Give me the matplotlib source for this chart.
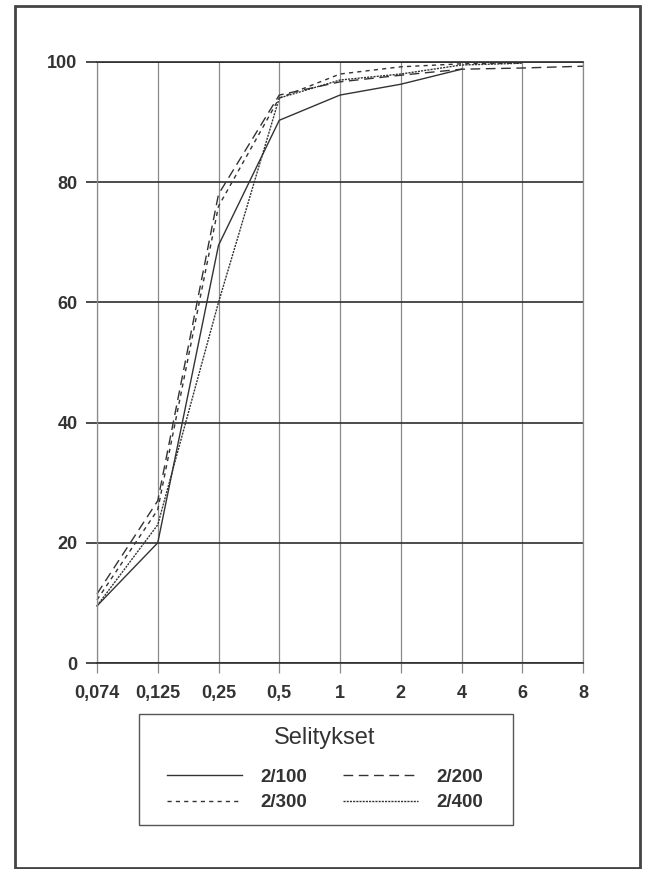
import numpy as np
import matplotlib
matplotlib.use("Agg")
import matplotlib.pyplot as plt
import matplotlib.patches as patches

plt.rcParams['font.family'] = ['Liberation Sans', 'DejaVu Sans']

# seulan aukot (mm) ja läpäisyprosentit
sizes = ["0,074", "0,125", "0,25", "0,5", "1", "2", "4", "6", "8"]
s_100 = [9.5, 20.0, 69.5, 90.3, 94.5, 96.3, 98.8, np.nan, np.nan]
s_200 = [11.5, 27.0, 78.0, 94.5, 96.7, 97.8, 98.8, 99.0, 99.3]
s_300 = [10.5, 25.5, 76.0, 94.0, 98.0, 99.2, 99.7, 99.8, np.nan]
s_400 = [9.5, 23.0, 60.0, 94.0, 97.0, 98.0, 99.5, 99.8, np.nan]
series_labels = ["2/100", "2/200", "2/300", "2/400"]
y_ticks = [0, 20, 40, 60, 80, 100]

W, H = 648, 869
fig = plt.figure(figsize=(W / 100, H / 100), dpi=100)
ax = fig.add_axes([97 / W, (H - 663) / H, 486 / W, 601 / H])

x = np.arange(len(sizes))
ink = '#333333'
txt = '#333333'
styles = [
    dict(linestyle='-'),
    dict(linestyle=(0, (7, 4))),
    dict(linestyle=(0, (3, 3))),
    dict(linestyle=(0, (1.5, 0.8))),
]
handles = []
for vals, lab, st in zip([s_100, s_200, s_300, s_400], series_labels, styles):
    h, = ax.plot(x, vals, color=ink, lw=1.0, label=lab, clip_on=False, **st)
    handles.append(h)

ax.set_xlim(0, len(sizes) - 1)
ax.set_ylim(0, 100)
ax.set_xticks(x)
ax.set_xticklabels(sizes, fontweight='bold')
ax.set_yticks(y_ticks)
ax.set_yticklabels([str(v) for v in y_ticks], fontweight='bold')

ax.grid(axis='y', color='#2e2e2e', lw=1.2)
ax.grid(axis='x', color='#8a8a8a', lw=0.9)
ax.set_axisbelow(True)
for side in ['left', 'right']:
    ax.spines[side].set_color('#8a8a8a')
    ax.spines[side].set_linewidth(0.9)
for side in ['top', 'bottom']:
    ax.spines[side].set_color('#2e2e2e')
    ax.spines[side].set_linewidth(1.2)

ax.tick_params(axis='x', length=7.5, width=0.9, color='#8a8a8a',
               labelsize=13, labelcolor=txt, pad=8)
ax.tick_params(axis='y', length=8, width=1.2, color='#2e2e2e',
               labelsize=13, labelcolor=txt, pad=6)

# legend frame and contents
fig.patches.append(patches.Rectangle((139 / W, (H - 825) / H), 374 / W, 111 / H,
                                     transform=fig.transFigure, fill=False,
                                     edgecolor='#555555', lw=1.0))
fig.text(325 / W, (H - 738) / H, "Selitykset", ha='center', va='center',
         fontsize=17, color=txt)
order = [0, 2, 1, 3]
leg = fig.legend([handles[i] for i in order], [series_labels[i] for i in order],
                 ncol=2, loc='center', bbox_to_anchor=(325 / W, (H - 790) / H),
                 frameon=False, prop={'size': 13.5, 'weight': 'bold'},
                 handlelength=4.0, handletextpad=1.0, columnspacing=1.9,
                 labelspacing=0.45)
for t in leg.get_texts():
    t.set_color(txt)

# outer frame
fig.patches.append(patches.Rectangle((15 / W, 1 / H), 625 / W, 862 / H,
                                     transform=fig.transFigure, fill=False,
                                     edgecolor='#444444', lw=2.0))

fig.savefig("out.png", dpi=100)
